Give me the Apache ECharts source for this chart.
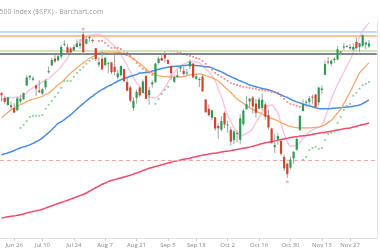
<!DOCTYPE html>
<html><head><meta charset="utf-8">
<script src="https://cdn.jsdelivr.net/npm/echarts@6/dist/echarts.min.js"></script>
<style>html,body{margin:0;padding:0;background:#fff}#c{width:380px;height:250px}</style>
</head><body><div id="c"></div>
<script>
const dates = ['Jun 20','Jun 21','Jun 22','Jun 23','Jun 26','Jun 27','Jun 28','Jun 29','Jun 30','Jul 3','Jul 5','Jul 6','Jul 7','Jul 10','Jul 11','Jul 12','Jul 13','Jul 14','Jul 17','Jul 18','Jul 19','Jul 20','Jul 21','Jul 24','Jul 25','Jul 26','Jul 27','Jul 28','Jul 31','Aug 1','Aug 2','Aug 3','Aug 4','Aug 7','Aug 8','Aug 9','Aug 10','Aug 11','Aug 14','Aug 15','Aug 16','Aug 17','Aug 18','Aug 21','Aug 22','Aug 23','Aug 24','Aug 25','Aug 28','Aug 29','Aug 30','Aug 31','Sep 1','Sep 5','Sep 6','Sep 7','Sep 8','Sep 11','Sep 12','Sep 13','Sep 14','Sep 15','Sep 18','Sep 19','Sep 20','Sep 21','Sep 22','Sep 25','Sep 26','Sep 27','Sep 28','Sep 29','Oct 2','Oct 3','Oct 4','Oct 5','Oct 6','Oct 9','Oct 10','Oct 11','Oct 12','Oct 13','Oct 16','Oct 17','Oct 18','Oct 19','Oct 20','Oct 23','Oct 24','Oct 25','Oct 26','Oct 27','Oct 30','Oct 31','Nov 1','Nov 2','Nov 3','Nov 6','Nov 7','Nov 8','Nov 9','Nov 10','Nov 13','Nov 14','Nov 15','Nov 16','Nov 17','Nov 20','Nov 21','Nov 22','Nov 24','Nov 27','Nov 28','Nov 29','Nov 30','Dec 1','Dec 4','Dec 5'];
const tickLabels = ['Jun 26','Jul 10','Jul 24','Aug 7','Aug 21','Sep 5','Sep 18','Oct 2','Oct 16','Oct 30','Nov 13','Nov 27'];

const opens = [4396,4380,4355,4354,4345,4337,4367,4375,4422,4450,4442,4423,4405,4394,4416,4468,4492,4515,4509,4522,4564,4554,4550,4543,4555,4559,4598,4566,4585,4579,4551,4494,4514,4492,4498,4502,4487,4451,4458,4479,4434,4416,4345,4380,4415,4396,4455,4389,4426,4433,4500,4517,4531,4510,4490,4435,4451,4481,4473,4463,4488,4498,4445,4445,4453,4374,4342,4311,4313,4283,4270,4328,4285,4270,4234,4259,4235,4289,4340,4367,4381,4360,4342,4345,4357,4321,4274,4210,4236,4232,4176,4153,4139,4171,4201,4268,4334,4364,4366,4384,4391,4364,4407,4459,4505,4497,4510,4512,4539,4553,4556,4555,4546,4572,4555,4559,4564,4557];
const highs = [4400,4386,4382,4367,4362,4384,4390,4398,4458,4456,4454,4423,4440,4413,4444,4488,4517,4528,4533,4562,4578,4565,4555,4563,4581,4582,4607,4590,4594,4585,4551,4519,4540,4520,4503,4502,4527,4476,4490,4479,4450,4421,4382,4408,4419,4443,4458,4418,4440,4500,4522,4532,4541,4514,4490,4458,4474,4491,4487,4479,4512,4498,4466,4450,4461,4376,4357,4339,4313,4292,4317,4333,4301,4281,4269,4267,4324,4342,4385,4379,4386,4377,4383,4394,4364,4340,4277,4256,4259,4232,4184,4157,4177,4196,4246,4320,4374,4372,4386,4391,4393,4418,4422,4509,4521,4512,4520,4557,4542,4568,4560,4564,4568,4588,4570,4599,4574,4579];
const lows = [4367,4360,4353,4341,4328,4335,4360,4372,4422,4442,4437,4385,4397,4390,4408,4463,4489,4500,4505,4515,4557,4528,4536,4541,4552,4548,4529,4564,4573,4568,4506,4486,4475,4491,4464,4461,4458,4444,4453,4432,4404,4365,4335,4360,4383,4396,4376,4356,4415,4432,4494,4507,4501,4496,4442,4430,4448,4468,4457,4454,4479,4447,4442,4417,4401,4329,4316,4303,4266,4239,4264,4275,4260,4216,4220,4226,4220,4284,4340,4345,4325,4312,4342,4338,4304,4270,4223,4189,4219,4181,4128,4104,4133,4153,4198,4268,4334,4348,4355,4360,4344,4353,4394,4459,4495,4488,4500,4510,4526,4545,4553,4546,4541,4547,4537,4555,4547,4552];
const closes = [4389,4366,4382,4348,4329,4378,4377,4396,4450,4456,4447,4412,4399,4410,4439,4472,4510,4505,4523,4555,4566,4535,4536,4555,4567,4567,4537,4582,4589,4577,4513,4502,4478,4518,4499,4468,4469,4464,4490,4438,4404,4370,4370,4400,4388,4436,4376,4406,4433,4498,4515,4508,4516,4497,4465,4451,4457,4487,4462,4467,4505,4450,4454,4444,4402,4330,4320,4337,4274,4275,4300,4288,4288,4229,4264,4258,4309,4336,4358,4377,4350,4328,4374,4373,4315,4278,4224,4217,4248,4187,4137,4117,4167,4194,4238,4318,4358,4366,4378,4383,4347,4415,4412,4496,4503,4508,4514,4547,4538,4557,4559,4550,4555,4551,4568,4595,4570,4567];

const ma200 = [3966,3968,3970,3972,3973,3975,3977,3980,3983,3986,3988,3991,3993,3996,4000,4004,4008,4012,4016,4019,4023,4027,4031,4035,4039,4043,4047,4052,4058,4064,4070,4076,4082,4086,4091,4095,4098,4101,4104,4107,4110,4113,4117,4121,4125,4129,4133,4137,4140,4143,4146,4149,4152,4155,4158,4161,4163,4166,4168,4170,4172,4175,4177,4180,4182,4184,4186,4188,4189,4191,4193,4195,4196,4198,4200,4202,4204,4206,4208,4210,4213,4216,4219,4222,4225,4227,4229,4231,4234,4236,4238,4241,4243,4245,4246,4248,4249,4250,4252,4254,4256,4258,4260,4261,4263,4265,4267,4269,4271,4273,4275,4276,4279,4282,4285,4288,4290,4293];
const ma50 = [4183,4187,4190,4194,4198,4203,4207,4211,4214,4218,4223,4229,4234,4242,4251,4260,4270,4281,4292,4297,4305,4313,4321,4331,4341,4351,4360,4369,4378,4386,4394,4402,4408,4414,4420,4425,4431,4437,4442,4446,4450,4454,4457,4460,4465,4466,4467,4469,4472,4475,4478,4481,4483,4485,4487,4488,4489,4490,4491,4492,4493,4492,4491,4490,4489,4487,4486,4483,4478,4474,4469,4464,4458,4453,4448,4443,4438,4434,4429,4424,4421,4418,4415,4412,4410,4407,4404,4399,4394,4390,4385,4381,4375,4370,4366,4362,4359,4355,4352,4349,4346,4343,4342,4342,4342,4343,4344,4345,4346,4347,4348,4349,4351,4353,4355,4360,4366,4373];
const ma20 = [4311,4320,4329,4338,4344,4350,4356,4361,4367,4372,4375,4378,4381,4385,4391,4396,4405,4415,4425,4432,4443,4454,4465,4474,4483,4492,4500,4508,4516,4521,4527,4533,4536,4537,4538,4538,4537,4536,4535,4530,4526,4521,4514,4506,4498,4489,4480,4471,4465,4460,4456,4454,4453,4452,4452,4452,4452,4452,4454,4456,4459,4460,4461,4462,4460,4456,4453,4449,4444,4438,4428,4418,4408,4398,4387,4376,4368,4361,4353,4346,4340,4334,4329,4324,4319,4313,4309,4305,4300,4295,4290,4285,4281,4279,4277,4276,4276,4276,4276,4277,4278,4279,4282,4287,4295,4302,4315,4328,4341,4360,4380,4400,4422,4444,4466,4477,4489,4500];
const pinkLine = [4373,4375,4377,4380,4381,4382,4383,4390,4397,4408,4414,4422,4428,4434,4441,4447,4454,4466,4476,4487,4503,4518,4535,4553,4565,4575,4585,4590,4595,4597,4599,4599,4594,4587,4578,4567,4557,4545,4530,4510,4490,4469,4450,4432,4418,4400,4392,4384,4380,4380,4388,4400,4415,4432,4452,4468,4480,4490,4496,4501,4504,4505,4503,4500,4490,4478,4470,4455,4440,4410,4385,4350,4320,4300,4276,4262,4250,4252,4257,4263,4275,4295,4311,4330,4345,4352,4355,4343,4328,4290,4255,4230,4214,4214,4217,4225,4240,4252,4262,4269,4274,4278,4285,4310,4340,4375,4402,4425,4447,4468,4490,4511,4533,4560,4588,4610,4625,4638];

const sarUp = [[6,4276],[7,4287],[8,4300],[9,4314],[10,4318],[11,4318],[12,4318],[13,4321],[14,4342],[15,4356],[16,4369],[17,4383],[18,4397],[19,4414],[20,4438],[21,4438],[22,4438],[23,4452],[24,4466],[25,4476],[26,4486],[27,4497],[28,4507],[29,4514],[30,4521],[49,4359],[50,4376],[51,4393],[52,4407],[53,4418],[96,4166],[97,4176],[98,4200],[99,4207],[100,4211],[101,4204],[102,4207],[103,4235],[104,4256],[105,4259],[106,4263],[107,4294],[108,4314],[109,4338],[110,4352],[111,4359],[112,4387],[113,4397],[114,4411],[115,4424],[116,4428],[117,4435]];
const sarDown = [[31,4576],[32,4576],[33,4569],[34,4559],[35,4552],[36,4552],[37,4552],[38,4548],[39,4538],[40,4535],[41,4524],[42,4514],[43,4500],[44,4490],[45,4480],[46,4473],[47,4466],[48,4459],[54,4541],[55,4540],[56,4538],[57,4535],[58,4531],[59,4528],[60,4524],[61,4521],[62,4517],[63,4514],[64,4507],[65,4497],[66,4486],[67,4476],[68,4466],[69,4459],[70,4452],[71,4445],[72,4438],[73,4431],[74,4428],[75,4424],[76,4421],[77,4418],[78,4416],[79,4414],[80,4412],[81,4411],[82,4407],[83,4407],[84,4404],[85,4404],[86,4400],[87,4400],[88,4397],[89,4387],[90,4376],[91,4366],[92,4359],[93,4356],[94,4352],[95,4349]];
const extremeMarks = [[26,4617],[91,4091]];

const levelValues = [4608, 4593, 4542, 4531];
const levelColors = ['#b2cdec','#f5b183','#c4dba4','#59606b'];
const supportValue = 4166;
const tagValues = [4608,4593,4572,4551,4511,4438,4400,4376,4293,4166];
const tagColors = ['#9fc0e8','#f29a5c','#3aa757','#222','#f29a5c','#3aa757','#e8394a','#2f7ee0','#e8394a','#e8394a'];

const cats = dates.concat(['','']);
const candleData = dates.map((d,i)=>[i, opens[i], closes[i], lows[i], highs[i]]);

const chart = echarts.init(document.getElementById('c'), null, {renderer:'canvas'});
const markLevels = levelValues.map((v,i)=>({yAxis:v, lineStyle:{color:levelColors[i], width:1.6, type:'solid'}}));
markLevels.push({yAxis:supportValue, lineStyle:{color:'#f7a6a6', width:1, type:[4,3]}});
const tagMarks = tagValues.map((v,i)=>({yAxis:v, lineStyle:{width:0, opacity:0},
  label:{show:true, position:'end', distance:-1, formatter:String(v), backgroundColor:tagColors[i], color:'#fff', fontSize:8, padding:[1,3], borderRadius:3}}));

chart.setOption({
  animation:false,
  title:{text:'S&P 500 Index ($SPX) - Barchart.com', left:-20.5, top:3, textStyle:{fontSize:7, fontWeight:'normal', color:'#9a9a9a', fontFamily:'Open Sans'}},
  grid:{left:-1.2, right:3.2, top:22, bottom:12},
  xAxis:{type:'category', data:cats, boundaryGap:true,
    axisLine:{show:true, lineStyle:{color:'#e3e3e3'}},
    axisTick:{show:true, alignWithLabel:true, length:3, lineStyle:{color:'#ccc'}, interval:(i,v)=>tickLabels.includes(v)},
    axisLabel:{interval:(i,v)=>tickLabels.includes(v), fontSize:6, color:'#888', margin:4, fontFamily:'Open Sans'},
    splitLine:{show:false}},
  yAxis:{type:'value', position:'right', min:3897, max:4641, scale:true,
    axisLine:{show:true, lineStyle:{color:'#e3e3e3'}}, axisTick:{show:false}, axisLabel:{show:false}, splitLine:{show:false}},
  series:[
    {type:'line', data:[], silent:true, z:1, markLine:{silent:true, symbol:'none', label:{show:false}, data:markLevels}},
    {type:'line', data:[], silent:true, z:9, markLine:{silent:true, symbol:'none', data:tagMarks}},
    {name:'pink', type:'line', data:pinkLine, showSymbol:false, smooth:true, z:2, lineStyle:{color:'#f9c4e4', width:1.4}},
    {name:'ma200', type:'line', data:ma200, showSymbol:false, smooth:true, z:3, lineStyle:{color:'#ef4b69', width:1.5}},
    {name:'ma50', type:'line', data:ma50, showSymbol:false, smooth:true, z:3, lineStyle:{color:'#4a8ee0', width:1.5}},
    {name:'ma20', type:'line', data:ma20, showSymbol:false, smooth:true, z:3, lineStyle:{color:'#f6a260', width:1.2}},
    {name:'sarUp', type:'scatter', data:sarUp, symbol:'rect', symbolSize:1.8, z:4, itemStyle:{color:'#6cc27a'}},
    {name:'sarDown', type:'scatter', data:sarDown, symbol:'rect', symbolSize:1.8, z:4, itemStyle:{color:'#f07070'}},
    {name:'ext', type:'scatter', data:extremeMarks, symbol:'circle', symbolSize:3, z:4, itemStyle:{color:'#f4a0a0'}},
    {name:'candles', type:'custom', z:5, data:candleData,
      renderItem:(params, api)=>{
        const x = api.value(0), o = api.value(1), c = api.value(2), l = api.value(3), h = api.value(4);
        const pO = api.coord([x,o]), pC = api.coord([x,c]), pL = api.coord([x,l]), pH = api.coord([x,h]);
        const w = api.size([1,0])[0]*0.7;
        const top = Math.min(pO[1], pC[1]), bot = Math.max(pO[1], pC[1]);
        const col = c >= o ? '#2b9b52' : '#d1432e';
        return {type:'group', children:[
          {type:'line', shape:{x1:pH[0], y1:pH[1], x2:pL[0], y2:pL[1]}, style:{stroke:'#a0a0a0', lineWidth:1}},
          {type:'rect', shape:{x:pO[0]-w/2, y:top, width:w, height:Math.max(bot-top,1)}, style:{fill:col}}
        ]};
      }}
  ]
});
</script></body></html>
